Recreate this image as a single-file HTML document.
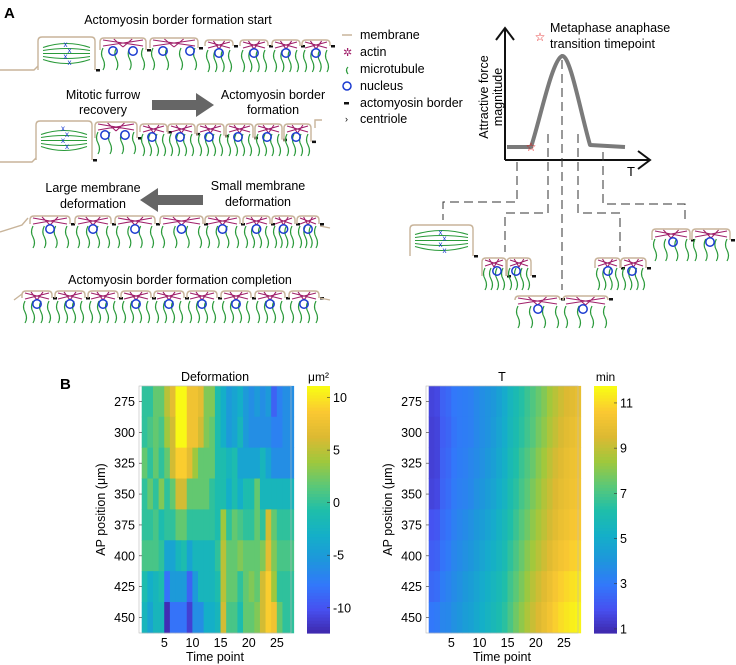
<!DOCTYPE html>
<html><head><meta charset="utf-8"><style>
html,body{margin:0;padding:0;background:#fff;}
svg{display:block;font-family:"Liberation Sans",Arial,sans-serif;}
</style></head><body>
<svg id="fig" width="736" height="665" viewBox="0 0 736 665" xmlns="http://www.w3.org/2000/svg">
<text x="4" y="18" font-size="15" font-weight="bold">A</text>
<text x="178" y="24" font-size="12.5" text-anchor="middle">Actomyosin border formation start</text>
<text x="103" y="99" font-size="12.5" text-anchor="middle">Mitotic furrow</text>
<text x="103" y="114" font-size="12.5" text-anchor="middle">recovery</text>
<path d="M152,100 L196,100 L196,93 L214,105 L196,117 L196,110 L152,110 Z" fill="#666"/>
<text x="273" y="99" font-size="12.5" text-anchor="middle">Actomyosin border</text>
<text x="273" y="114" font-size="12.5" text-anchor="middle">formation</text>
<text x="93" y="192" font-size="12.5" text-anchor="middle">Large membrane</text>
<text x="93" y="208" font-size="12.5" text-anchor="middle">deformation</text>
<path d="M203,195 L158,195 L158,188 L140,200 L158,212 L158,205 L203,205 Z" fill="#666"/>
<text x="258" y="190" font-size="12.5" text-anchor="middle">Small membrane</text>
<text x="258" y="206" font-size="12.5" text-anchor="middle">deformation</text>
<text x="180" y="284" font-size="12.5" text-anchor="middle">Actomyosin border formation completion</text>

<g font-size="12.5">
<line x1="342" y1="35" x2="352" y2="35" stroke="#c8b49a" stroke-width="1.5"/>
<text x="360" y="39">membrane</text>
<text x="343" y="56" fill="#a0206a" font-size="11">✲</text>
<text x="360" y="56">actin</text>
<path d="M348,67 q-3,3 0,7" stroke="#2a9a3a" fill="none" stroke-width="1.2"/>
<text x="360" y="73">microtubule</text>
<circle cx="347" cy="86" r="4" fill="none" stroke="#1a3ad0" stroke-width="1.5"/>
<text x="360" y="90">nucleus</text>
<rect x="344" y="102" width="5" height="2.5" fill="#111"/>
<text x="360" y="107">actomyosin border</text>
<text x="345" y="122" font-size="9">›</text>
<text x="360" y="123">centriole</text>
</g>

<g>
<path d="M505,160 L505,28 M496,40 L505,28 L514,40" stroke="#111" stroke-width="2" fill="none"/>
<path d="M505,160 L650,160 M638,151 L650,160 L638,169" stroke="#111" stroke-width="2" fill="none"/>
<text x="627" y="176" font-size="13">T</text>
<text transform="translate(488,97) rotate(-90)" font-size="12.5" text-anchor="middle">Attractive force</text>
<text transform="translate(502,97) rotate(-90)" font-size="12.5" text-anchor="middle">magnitude</text>
<path d="M507,147 L531,147 C540,120 552,60 562,56 C570,54 580,110 590,145 L625,147" stroke="#7a7a7a" stroke-width="4" fill="none" stroke-linejoin="round"/>
<text x="531" y="151" font-size="12" fill="#e01010" text-anchor="middle">☆</text>
<text x="540" y="41" font-size="12" fill="#e01010" text-anchor="middle">☆</text>
<text x="550" y="32" font-size="12.5">Metaphase anaphase</text>
<text x="550" y="48" font-size="12.5">transition timepoint</text>
<g stroke="#333" stroke-width="1" fill="none" stroke-dasharray="9,5">
<path d="M517,162 L517,202 L443,202 L443,220"/>
<path d="M548,134 L548,213 L505,213 L505,252"/>
<path d="M562,60 L562,290"/>
<path d="M578,134 L578,213 L620,213 L620,252"/>
<path d="M603,152 L603,204 L685,204 L685,222"/>
</g>
</g>

<g id="cells"></g>

<text x="60" y="389" font-size="15" font-weight="bold">B</text>
<g id="hm1"></g>
<g id="hm2"></g>
</svg>
<script>
// ---------- Chart data ----------
const positions = [275,300,325,350,375,400,425,450];
const timeTicks = [5,10,15,20,25];
const nTime = 27;
const defRow275 = [0,0,2,2,5,7,11,11,8,8,7,3,3,-1,-3,-5,-4,-3,-5,-6,-5,-6,-5,-9,-7,-6,-6];
const defRow300 = [0,1,2,1,4,6,11,11,8,8,6,3,2,-1,-3,-5,-4,-2,-5,-6,-6,-6,-6,-7,-7,-6,-6];
const defRow325 = [2,0,2,0,2,6,9,9,7,4,2,2,2,-1,-1,-2,-1,-4,-4,-4,-4,-2,-4,-6,-6,-6,-6];
const defRow350 = [0,2,0,3,0,2,6,6,2,2,2,2,0,-1,-1,-3,-1,-3,-1,-1,2,-2,-2,-2,-2,-2,-2];
const defRow375 = [0,0,1,-1,0,0,2,2,0,0,0,0,0,-1,4,0,2,1,0,0,2,0,6,2,0,0,0];
const defRow400 = [1,1,1,0,-4,-4,-2,-1,-4,-2,-2,-2,-2,0,5,2,2,3,2,2,2,3,7,3,1,1,1];
const defRow425 = [-1,-3,-2,-1,-8,-5,-5,-5,-9,-5,-2,-2,-2,-1,5,2,2,0,2,3,2,6,9,4,0,0,0];
const defRow450 = [-2,-4,-2,-2,-12,-8,-8,-8,-11,-6,-6,-3,-3,-2,6,1,1,-1,2,2,3,6,9,8,2,0,0];
const defTicks = [10,5,0,-5,-10];
const defRange = [-12.4, 11.1];
const tRow275 = [1.6,1.7,2.4,2.6,3.0,3.1,3.2,3.3,3.6,3.8,4.0,4.2,4.6,5.0,5.6,6.0,6.4,6.8,7.2,7.6,8.0,8.5,8.9,9.3,9.6,9.8,10.0];
const tRow300 = [1.5,1.6,2.3,2.5,2.9,3.1,3.2,3.3,3.6,3.8,4.0,4.3,4.7,5.1,5.7,6.1,6.5,6.9,7.3,7.8,8.2,8.7,9.1,9.5,9.8,10.0,10.2];
const tRow325 = [1.5,1.6,2.4,2.6,3.0,3.2,3.3,3.5,3.7,3.9,4.2,4.5,4.9,5.3,5.9,6.3,6.8,7.2,7.6,8.1,8.5,9.0,9.4,9.7,10.0,10.2,10.3];
const tRow350 = [1.6,1.7,2.5,2.7,3.1,3.3,3.4,3.6,3.9,4.1,4.4,4.7,5.1,5.5,6.1,6.5,7.0,7.4,7.9,8.3,8.8,9.2,9.6,9.9,10.1,10.3,10.4];
const tRow375 = [2.0,2.1,2.7,2.9,3.3,3.5,3.7,3.9,4.2,4.4,4.7,5.0,5.4,5.8,6.3,6.8,7.3,7.7,8.2,8.6,9.0,9.4,9.8,10.1,10.3,10.5,10.6];
const tRow400 = [2.3,2.4,2.9,3.1,3.5,3.7,3.9,4.1,4.4,4.7,5.0,5.3,5.6,6.0,6.6,7.1,7.6,8.1,8.5,8.9,9.3,9.7,10.1,10.4,10.6,10.8,10.9];
const tRow425 = [2.6,2.7,3.2,3.4,3.7,3.9,4.2,4.4,4.7,5.0,5.3,5.6,5.9,6.3,6.9,7.4,7.9,8.4,8.9,9.3,9.7,10.1,10.5,10.8,11.0,11.2,11.3];
const tRow450 = [3.0,3.1,3.5,3.6,3.9,4.1,4.4,4.6,4.9,5.2,5.5,5.8,6.1,6.5,7.1,7.7,8.2,8.7,9.2,9.6,10.0,10.4,10.8,11.1,11.3,11.5,11.6];
const tTicks = [11,9,7,5,3,1];
const tRange = [0.82, 11.75];

const defRows = [defRow275,defRow300,defRow325,defRow350,defRow375,defRow400,defRow425,defRow450];
const tRows = [tRow275,tRow300,tRow325,tRow350,tRow375,tRow400,tRow425,tRow450];

const NS = "http://www.w3.org/2000/svg";
function mk(tag, attrs, parent){
  const e = document.createElementNS(NS, tag);
  for (const k in attrs) e.setAttribute(k, attrs[k]);
  parent.appendChild(e); return e;
}
const stops = [[62,38,168],[71,80,240],[50,120,250],[30,150,220],[20,175,200],[30,190,170],[90,200,120],[160,200,60],[220,185,50],[250,200,50],[249,251,20]];
function parula(t){
  t = Math.max(0, Math.min(1, t)) * (stops.length - 1);
  const i = Math.min(stops.length - 2, Math.floor(t)), f = t - i;
  const a = stops[i], b = stops[i+1];
  return "rgb(" + [0,1,2].map(k => Math.round(a[k] + (b[k]-a[k])*f)).join(",") + ")";
}

function heatmap(g, x0, rows, range, ticks, title, unit){
  const L = x0, R = x0 + 152, T = 386, B = 633;
  const xs = t => L + (t - 0.5) * (R - L) / nTime;
  const ys = i => T + i * (B - T) / positions.length;
  const cw = (R - L) / nTime, rh = (B - T) / positions.length;
  rows.forEach((row, i) => {
    row.forEach((v, j) => {
      const r = mk("rect", {x: xs(j+1) - 0.1, y: ys(i) - 0.1, width: cw + 0.4, height: rh + 0.4, fill: parula((v - range[0]) / (range[1] - range[0]))}, g);
      
      
    });
  });
  const fr = mk("rect", {x: L, y: T, width: R - L, height: B - T, fill: "none", stroke: "#bbb", "stroke-width": 0.6}, g);
  
  
  positions.forEach((p, i) => {
    const yc = ys(i) + rh / 2;
    const tk = mk("line", {x1: L, x2: L + 3, y1: yc, y2: yc, stroke: "#333", "stroke-width": 0.6}, g);
    
    
    const tx = mk("text", {x: L - 4, y: yc + 4.5, "font-size": 12.5, "text-anchor": "end"}, g);
    tx.textContent = p;
    
    
  });
  timeTicks.forEach(t => {
    const xc = xs(t + 0.5) ;
    const tx = mk("text", {x: L + (t - 0.5 + 0.5) * (R - L) / nTime - (R-L)/nTime/2, y: 647, "font-size": 12.5, "text-anchor": "middle"}, g);
    tx.textContent = t;
    
    
  });
  const xl = mk("text", {x: (L + R) / 2, y: 661, "font-size": 12.5, "text-anchor": "middle"}, g);
  xl.textContent = "Time point";
  
  
  const yl = mk("text", {transform: "translate(" + (L - 34) + "," + ((T + B) / 2) + ") rotate(-90)", "font-size": 12.5, "text-anchor": "middle"}, g);
  yl.textContent = "AP position (μm)";
  
  
  const tt = mk("text", {x: (L + R) / 2, y: 381, "font-size": 12.5, "text-anchor": "middle"}, g);
  tt.textContent = title;
  
  
  // colorbar
  const cx = R + 16, cwid = 23, n = 80;
  const cy = v => B - (v - range[0]) / (range[1] - range[0]) * (B - T);
  for (let k = 0; k < n; k++){
    const s = mk("rect", {x: cx, y: T + k * (B - T) / n, width: cwid, height: (B - T) / n + 0.6, fill: parula(1 - k / n)}, g);
    
    
  }
  ticks.forEach(v => {
    const tk = mk("line", {x1: cx + cwid - 3, x2: cx + cwid, y1: cy(v), y2: cy(v), stroke: "#333", "stroke-width": 0.6}, g);
    
    
    const tx = mk("text", {x: cx + cwid + 3, y: cy(v) + 4.5, "font-size": 12.5}, g);
    tx.textContent = v;
    
    
  });
  const ul = mk("text", {x: cx + cwid / 2, y: 381, "font-size": 12, "text-anchor": "middle"}, g);
  ul.textContent = unit;
  
  
}
heatmap(document.getElementById("hm1"), 139, defRows, defRange, defTicks, "Deformation", "μm²");
heatmap(document.getElementById("hm2"), 426, tRows, tRange, tTicks, "T", "min");

// ---------- Cell illustrations ----------
const cg = document.getElementById("cells");
function cell(x, w, top, bot, nuc, mitotic){
  const g = mk("g", {}, cg);
  
  
  const m = mk("path", {d: "M" + x + "," + bot + " L" + x + "," + (top + 4) + " Q" + x + "," + top + " " + (x + 4) + "," + top + " L" + (x + w - 4) + "," + top + " Q" + (x + w) + "," + top + " " + (x + w) + "," + (top + 4) + " L" + (x + w) + "," + bot, fill: "none", stroke: "#c8b49a", "stroke-width": 1.4}, g);
  
  
  if (mitotic){
    const cxm = x + w / 2, cym = (top + bot) / 2;
    for (let k = -2; k <= 2; k++){
      const a = mk("path", {d: "M" + (x + 5) + "," + (cym + k * 3) + " Q" + cxm + "," + (cym + k * 7) + " " + (x + w - 5) + "," + (cym + k * 3), fill: "none", stroke: "#2a9a3a", "stroke-width": 1}, g);
      
      
    }
    for (let k = 0; k < 4; k++){
      const c = mk("text", {x: cxm - 3 + (k % 2) * 4, y: top + 10 + k * 6, "font-size": 8, fill: "#1a3ad0"}, g);
      c.textContent = "x";
      
      
    }
  } else {
    const a = mk("path", {d: "M" + (x + 3) + "," + (top + 2) + " L" + (x + w - 3) + "," + (top + 8) + " M" + (x + 3) + "," + (top + 8) + " L" + (x + w - 3) + "," + (top + 2) + " M" + (x + w * 0.3) + "," + (top + 1) + " L" + (x + w * 0.5) + "," + (top + 9) + " M" + (x + w * 0.7) + "," + (top + 1) + " L" + (x + w * 0.5) + "," + (top + 9), stroke: "#a0206a", "stroke-width": 1.1, fill: "none"}, g);
    
    
    for (let k = 0; k < 4; k++){
      const mx = x + 3 + k * (w - 6) / 3;
      const mt = mk("path", {d: "M" + mx + "," + (top + 10) + " q-3,6 0,11 q3,6 0,11", stroke: "#2a9a3a", "stroke-width": 1.2, fill: "none"}, g);
      
      
    }
    nuc.forEach(nx => {
      const c = mk("circle", {cx: nx, cy: top + 13, r: 4.2, fill: "none", stroke: "#1a3ad0", "stroke-width": 1.5}, g);
      
      
    });
  }
  const b = mk("rect", {x: x + w + 1, y: bot - 1, width: 4, height: 2.5, fill: "#111"}, g);
  
  
}
function line(d){
  const p = mk("path", {d: d, fill: "none", stroke: "#c8b49a", "stroke-width": 1.4}, cg);
  
  
}
// row 1
line("M0,70 L34,70 L38,66");
cell(38, 57, 37, 70, [], true);
cell(100, 46, 38, 50, [113,133], false);
cell(150, 48, 38, 48, [163,190], false);
[205,240,272,302].forEach((x, i) => cell(x, 28, 40, 46, [x + 14], false));
// row 2
line("M0,162 L32,162 L36,158");
cell(36, 56, 121, 160, [], true);
cell(95, 42, 122, 138, [105,125], false);
[140,168,197,226,255,284].forEach(x => cell(x, 27, 124, 132 + (x - 140) / 15, [x + 12], false));
line("M315,128 L315,120 L322,120");
// row 3
line("M0,232 L22,225 L28,218");
[[30,40],[75,36],[115,40],[160,43],[205,35],[243,27],[272,23],[297,22]].forEach(c => cell(c[0], c[1], 216, 224, [c[0] + c[1] / 2], false));
line("M320,226 L330,228");
// row 4
line("M14,300 L22,294");
[22,55,88,121,154,187,221,255,289].forEach(x => cell(x, 30, 291, 298, [x + 15], false));
line("M320,298 L330,300");
// right side cells
cell(410, 63, 225, 256, [], true);
cell(482, 24, 258, 276, [497], false);
cell(507, 24, 258, 276, [516], false);
cell(515, 45, 296, 299, [538], false);
cell(563, 45, 296, 299, [583], false);
cell(595, 25, 258, 268, [608], false);
cell(621, 25, 258, 268, [632], false);
cell(652, 38, 229, 240, [673], false);
cell(692, 38, 229, 240, [710], false);
</script>
</body></html>
